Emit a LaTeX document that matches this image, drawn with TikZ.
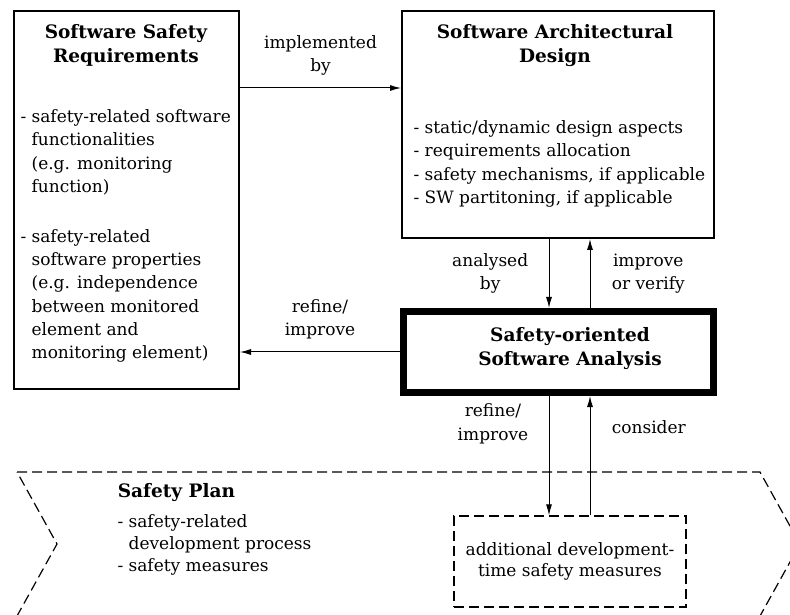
\documentclass[tikz,border=0pt]{standalone}
\usepackage{fontspec}
\setmainfont{DejaVu Serif}
\usetikzlibrary{arrows.meta,positioning}
\newcommand{\txt}{\fontsize{17}{23.3}\selectfont}
\newcommand{\ttl}{\fontsize{18.5}{24}\selectfont\bfseries}
\newcommand{\ind}{\hphantom{- }}

\begin{document}
\begin{tikzpicture}[x=1pt,y=1pt,>={Latex[length=11pt,width=6pt]},
    box/.style={draw,line width=2pt},
    dbox/.style={draw,line width=1.2pt,dash pattern=on 10pt off 5pt},
    title/.style={font=\ttl,align=center},
    list/.style={font=\txt,align=left,anchor=north west,inner sep=0pt},
    lbl/.style={font=\txt,align=center},
    every path/.style={line width=1pt}]
    \useasboundingbox (0,0) rectangle (790,614);

    \node[box, minimum width=225pt, minimum height=378pt] (ssr) at (126.5,414) {};
    \node[box, minimum width=312pt, minimum height=227pt] (sad) at (558,489.5) {};
    \node[box, line width=7pt, minimum width=310pt, minimum height=81pt] (sosa) at (558.5,262) {};
    \draw[dbox] (17,142) -- (760,142) -- (800,70) -- (760,-2) -- (17,-2) -- (57,70) -- cycle;
    \node[dbox, minimum width=232pt, minimum height=91pt, font=\fontsize{17}{21.5}\selectfont, align=center] (adm) at (570,52.5) {additional development-\\time safety measures};

    \node[title] (ssrtitle) at (126,569) {Software Safety\\Requirements};
    \node[title] (sadtitle) at (555,568.5) {Software Architectural\\Design};
    \node[title] (sosatitle) at (570,265.5) {Safety-oriented\\Software Analysis};
    \node[title, anchor=west] (plantitle) at (114,121) {Safety Plan};

    \node[list] (ssrlist) at (20,505) {- safety-related software\\\ind functionalities\\\ind (e.g. monitoring\\\ind function)\\[26.7pt]- safety-related\\\ind software properties\\\ind (e.g. independence\\\ind between monitored\\\ind element and\\\ind monitoring element)};
    \node[list] (sadlist) at (413,494) {- static/dynamic design aspects\\- requirements allocation\\- safety mechanisms, if applicable\\- SW partitoning, if applicable};
    \node[list, font=\fontsize{17}{22}\selectfont] (planlist) at (117,100) {- safety-related\\\ind development process\\- safety measures};

    \coordinate (impl) at (0,526);
    \coordinate (dn) at (549,0);
    \coordinate (up) at (590,0);
    \draw[->] (ssr.east |- impl) -- (sad.west |- impl) node[midway, above=9pt, lbl]{implemented\\by};
    \draw[->] (sad.south -| dn) -- (sosa.north -| dn) node[midway, left=17pt, lbl]{analysed\\by};
    \draw[->] (sosa.north -| up) -- (sad.south -| up) node[midway, right=18pt, lbl]{improve\\or verify};
    \draw[->] (sosa.west) -- (ssr.east |- sosa.west) node[midway, above=9pt, lbl]{refine/\\improve};
    \draw[->] (sosa.south -| dn) -- (adm.north -| dn) node[pos=0.234, left=17pt, lbl]{refine/\\improve};
    \draw[->] (adm.north -| up) -- (sosa.south -| up) node[pos=0.74, right=18pt, lbl]{consider};
\end{tikzpicture}
\end{document}
